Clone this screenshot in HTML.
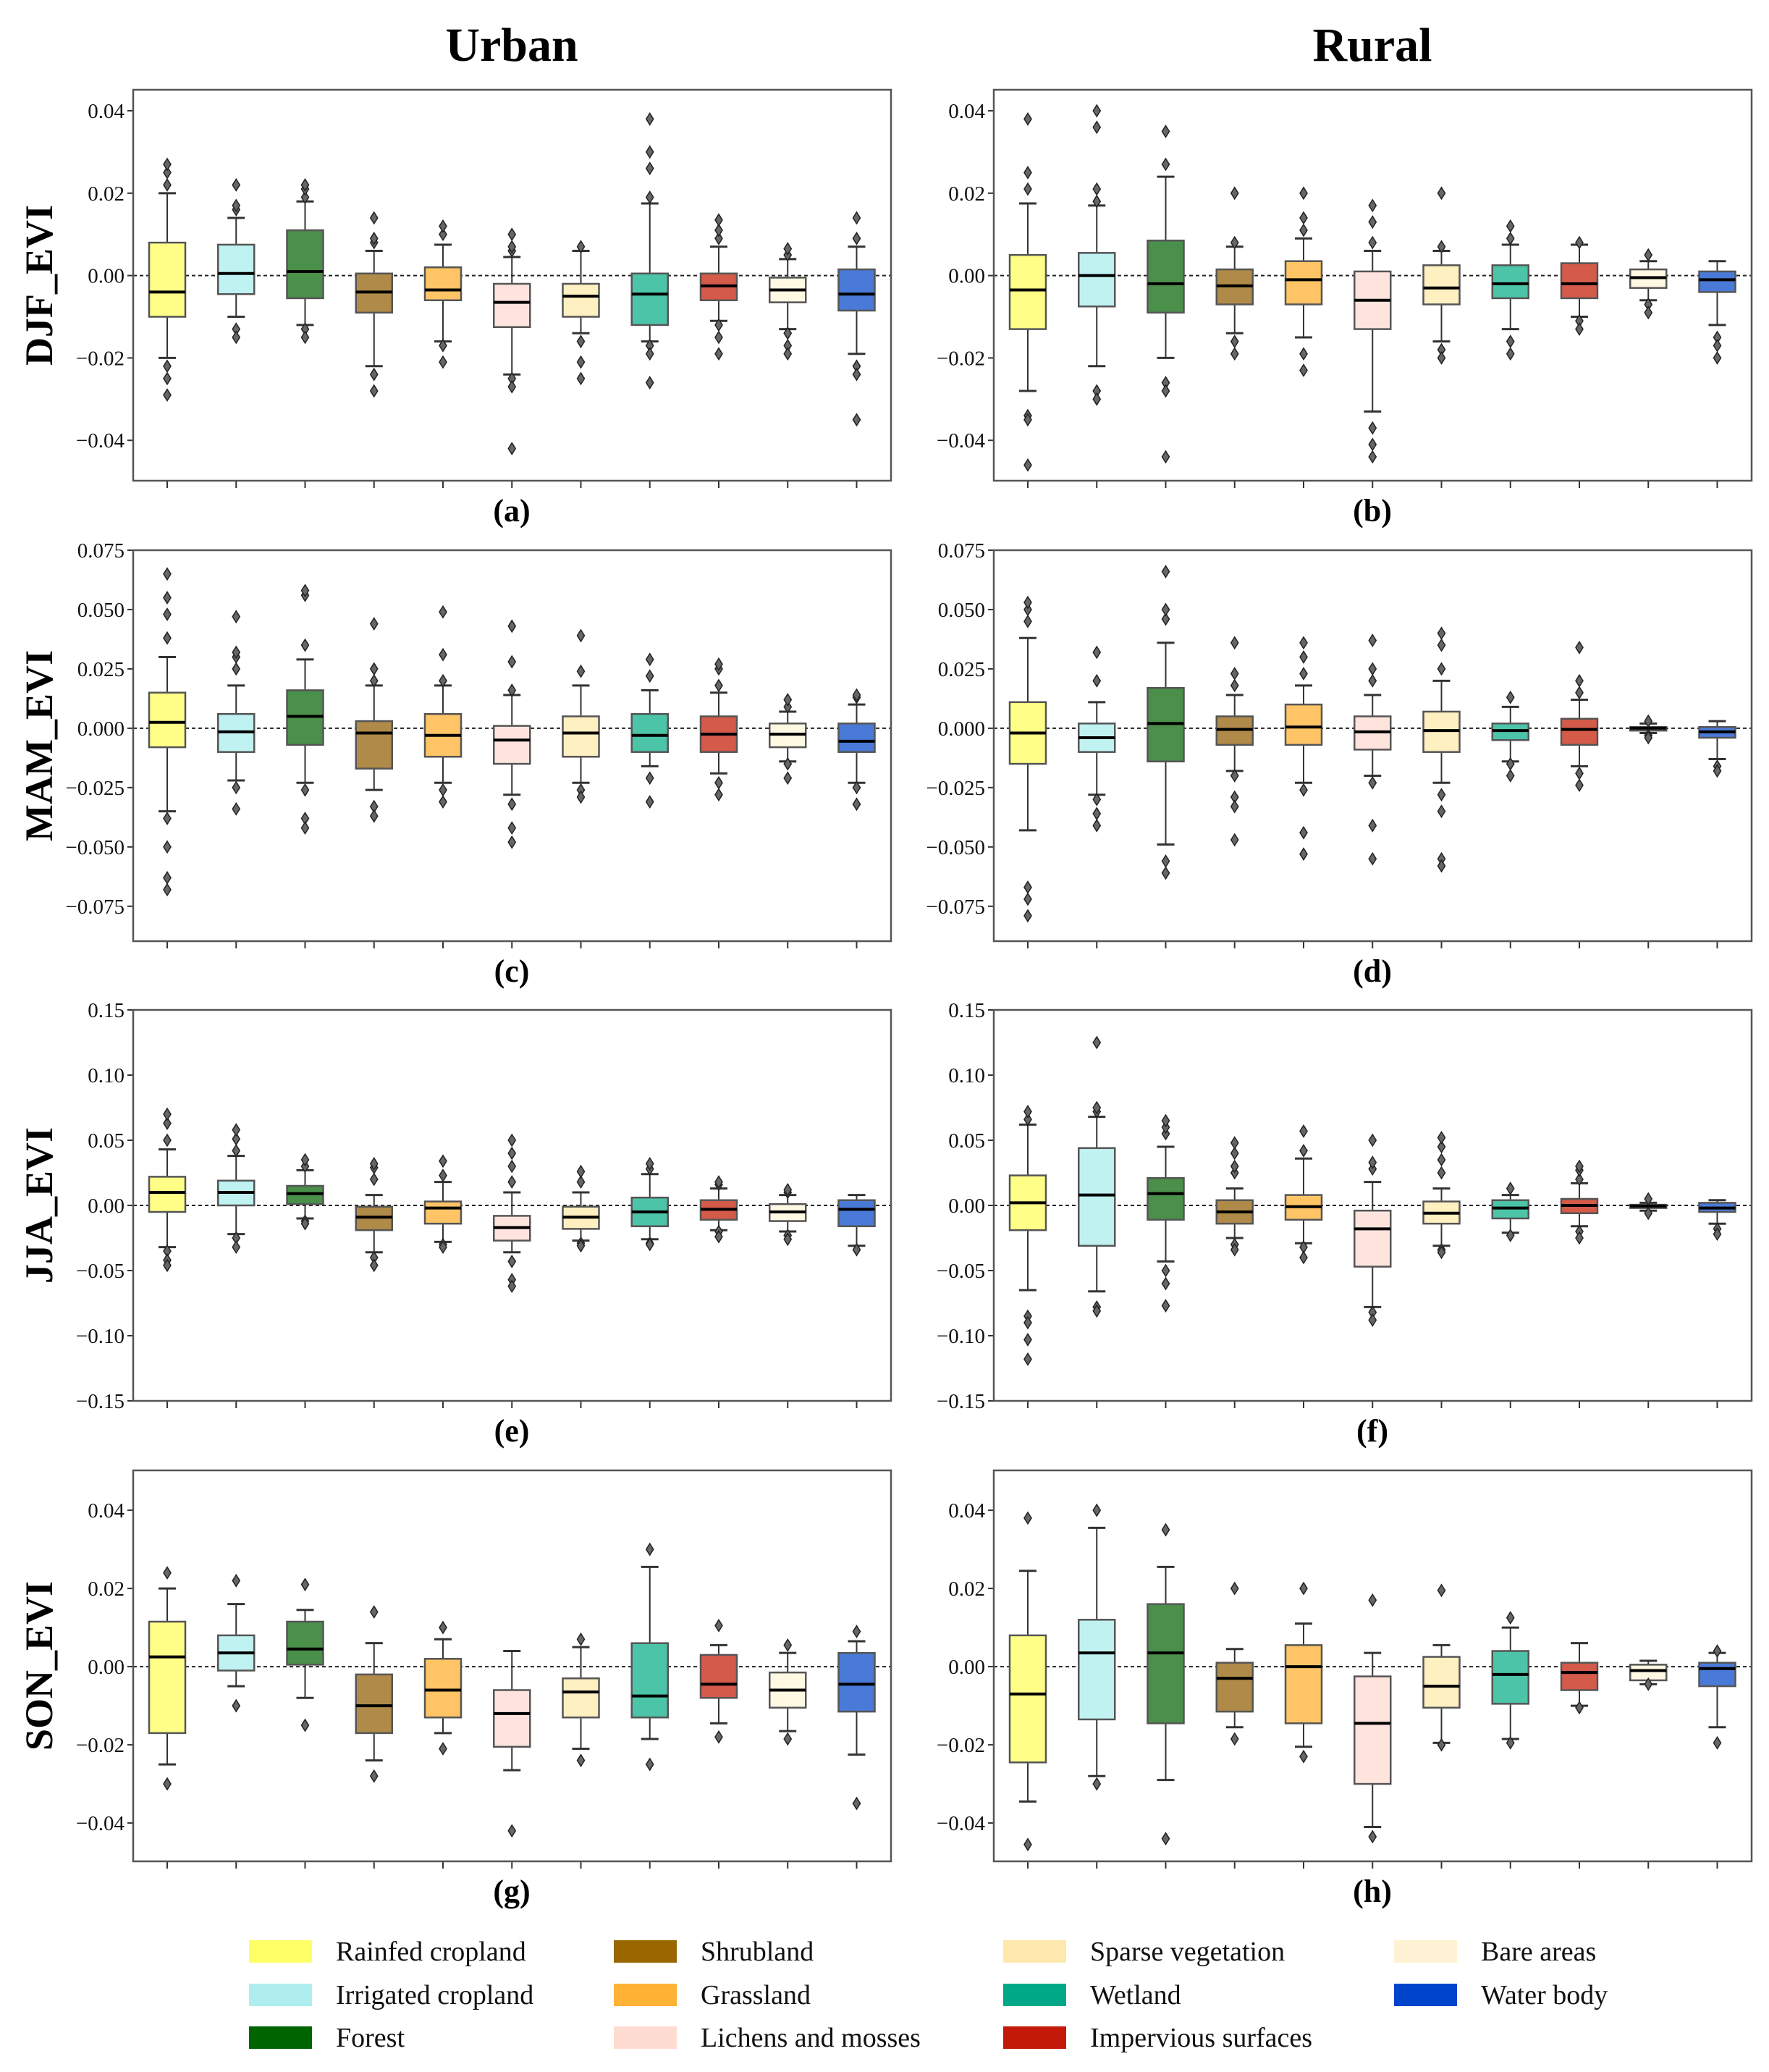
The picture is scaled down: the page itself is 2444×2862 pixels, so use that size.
<!DOCTYPE html>
<html><head><meta charset="utf-8"><style>
html,body{margin:0;padding:0;background:#fff;}
svg{display:block;}
svg text{font-family:"Liberation Serif","DejaVu Serif",serif;}
</style></head><body>
<svg id="s" width="2444" height="2862" viewBox="0 0 2444 2862" xmlns="http://www.w3.org/2000/svg"></svg>
<script>
const S=document.getElementById('s');
let h='';
const fills=['#ffff88','#c0f2f2','#4a8f4a','#b08a48','#ffc466','#ffe4de','#fff0c2','#4cc4a8','#d45a4a','#fff8e2','#4a7ad8'];
const A=[[-1.0,-0.4,0.8,-2.0,2.0,[2.2,2.5,2.7,-2.2,-2.5,-2.9]],[-0.45,0.05,0.75,-1.0,1.4,[1.6,1.7,2.2,-1.3,-1.5]],[-0.55,0.1,1.1,-1.2,1.8,[1.9,2.1,2.2,-1.3,-1.5]],[-0.9,-0.4,0.05,-2.2,0.6,[0.8,0.9,1.4,-2.4,-2.8]],[-0.6,-0.35,0.2,-1.6,0.75,[1.0,1.2,-1.7,-2.1]],[-1.25,-0.65,-0.2,-2.4,0.45,[0.6,0.7,1.0,-2.5,-2.7,-4.2]],[-1.0,-0.5,-0.2,-1.4,0.6,[0.7,-1.6,-2.1,-2.5]],[-1.2,-0.45,0.05,-1.6,1.75,[1.9,2.6,3.0,3.8,-1.7,-1.9,-2.6]],[-0.6,-0.25,0.05,-1.1,0.7,[0.9,1.1,1.35,-1.2,-1.5,-1.9]],[-0.65,-0.35,-0.05,-1.3,0.4,[0.5,0.65,-1.4,-1.7,-1.9]],[-0.85,-0.45,0.15,-1.9,0.7,[0.9,1.4,-2.2,-2.4,-3.5]]];
const B=[[-1.3,-0.35,0.5,-2.8,1.75,[2.1,2.5,3.8,-3.4,-3.5,-4.6]],[-0.75,0,0.55,-2.2,1.7,[1.8,2.1,3.6,4.0,-2.8,-3.0]],[-0.9,-0.2,0.85,-2.0,2.4,[2.7,3.5,-2.6,-2.8,-4.4]],[-0.7,-0.25,0.15,-1.4,0.7,[0.8,2.0,-1.6,-1.9]],[-0.7,-0.1,0.35,-1.5,0.9,[1.1,1.4,2.0,-1.9,-2.3]],[-1.3,-0.6,0.1,-3.3,0.6,[0.8,1.3,1.7,-3.7,-4.1,-4.4]],[-0.7,-0.3,0.25,-1.6,0.6,[0.7,2.0,-1.8,-2.0]],[-0.55,-0.2,0.25,-1.3,0.75,[0.9,1.2,-1.6,-1.9]],[-0.55,-0.2,0.3,-1.0,0.75,[0.8,-1.1,-1.3]],[-0.3,-0.05,0.15,-0.6,0.35,[0.5,-0.7,-0.9]],[-0.4,-0.1,0.1,-1.2,0.35,[-1.5,-1.7,-2.0]]];
const C=[[-0.8,0.25,1.5,-3.5,3.0,[3.8,4.8,5.5,6.5,-3.8,-5.0,-6.3,-6.8]],[-1.0,-0.15,0.6,-2.2,1.8,[2.5,3.0,3.2,4.7,-2.5,-3.4]],[-0.7,0.5,1.6,-2.3,2.9,[3.5,5.6,5.8,-2.6,-3.8,-4.2]],[-1.7,-0.2,0.3,-2.6,1.8,[2.0,2.5,4.4,-3.3,-3.7]],[-1.2,-0.3,0.6,-2.3,1.8,[2.0,3.1,4.9,-2.6,-3.1]],[-1.5,-0.5,0.1,-2.8,1.4,[1.6,2.8,4.3,-3.2,-4.2,-4.8]],[-1.2,-0.2,0.5,-2.3,1.8,[2.4,3.9,-2.6,-2.9]],[-1.0,-0.3,0.6,-1.6,1.6,[2.2,2.9,-2.1,-3.1]],[-1.0,-0.25,0.5,-1.9,1.5,[1.8,2.5,2.7,-2.3,-2.8]],[-0.8,-0.25,0.2,-1.4,0.7,[0.9,1.2,-1.5,-2.1]],[-1.0,-0.55,0.2,-2.3,1.0,[1.3,1.4,-2.5,-3.2]]];
const D=[[-1.5,-0.2,1.1,-4.3,3.8,[4.5,5.0,5.3,-6.7,-7.2,-7.9]],[-1.0,-0.4,0.2,-2.8,1.1,[2.0,3.2,-3.0,-3.6,-4.1]],[-1.4,0.2,1.7,-4.9,3.6,[4.6,5.0,6.6,-5.6,-6.1]],[-0.7,-0.05,0.5,-1.8,1.4,[1.8,2.3,3.6,-2.0,-2.9,-3.3,-4.7]],[-0.7,0.05,1.0,-2.3,1.8,[2.3,3.0,3.6,-2.6,-4.4,-5.3]],[-0.9,-0.15,0.5,-2.0,1.4,[2.0,2.5,3.7,-2.3,-4.1,-5.5]],[-1.0,-0.1,0.7,-2.3,2.0,[2.5,3.5,4.0,-2.8,-3.5,-5.5,-5.8]],[-0.5,-0.1,0.2,-1.4,0.9,[1.3,-1.5,-2.0]],[-0.7,-0.05,0.4,-1.6,1.2,[1.5,2.0,3.4,-1.9,-2.4]],[-0.1,0,0.05,-0.2,0.2,[0.3,-0.3,-0.4]],[-0.4,-0.15,0.05,-1.3,0.3,[-1.6,-1.8]]];
const E=[[-0.5,1.0,2.2,-3.2,4.3,[5.0,6.3,7.0,-3.5,-4.2,-4.6]],[0,1.0,1.9,-2.2,3.8,[4.2,5.1,5.8,-2.5,-3.2]],[0.1,0.9,1.5,-1.0,2.7,[3.0,3.5,-1.2,-1.4]],[-1.9,-0.9,-0.1,-3.6,0.8,[2.0,2.9,3.2,-4.0,-4.6]],[-1.4,-0.2,0.3,-2.8,1.8,[2.3,3.4,-3.0,-3.2]],[-2.7,-1.7,-0.8,-3.6,1.0,[1.8,3.0,4.0,5.0,-4.3,-5.7,-6.2]],[-1.8,-0.9,-0.1,-2.7,1.0,[1.8,2.6,-2.9,-3.1]],[-1.6,-0.5,0.6,-2.6,2.4,[2.8,3.2,-2.9,-3.0]],[-1.1,-0.3,0.4,-1.9,1.3,[1.6,1.8,-2.0,-2.4]],[-1.2,-0.5,0.1,-2.0,0.8,[1.0,1.2,-2.3,-2.6]],[-1.6,-0.3,0.4,-3.1,0.8,[-3.4]]];
const F=[[-1.9,0.2,2.3,-6.5,6.2,[6.6,7.2,-8.5,-9.0,-10.3,-11.8]],[-3.1,0.8,4.4,-6.6,6.8,[7.2,7.5,12.5,-7.8,-8.1]],[-1.1,0.9,2.1,-4.3,4.5,[5.5,6.0,6.5,-5.0,-6.0,-7.7]],[-1.4,-0.5,0.4,-2.5,1.3,[2.5,3.0,4.0,4.8,-3.0,-3.4]],[-1.1,-0.1,0.8,-2.9,3.6,[4.2,5.7,-3.2,-4.0]],[-4.7,-1.8,-0.4,-7.8,1.8,[2.8,3.3,5.0,-8.2,-8.8]],[-1.4,-0.6,0.3,-3.1,1.3,[2.5,3.5,4.5,5.2,-3.4,-3.6]],[-1.0,-0.2,0.4,-2.1,0.8,[1.3,-2.3]],[-0.6,0,0.5,-1.6,1.7,[2.0,2.7,3.0,-2.0,-2.5]],[-0.2,-0.05,0.05,-0.4,0.2,[0.5,-0.6]],[-0.5,-0.2,0.2,-1.4,0.4,[-1.8,-2.2]]];
const G=[[-1.7,0.25,1.15,-2.5,2.0,[2.4,-3.0]],[-0.1,0.35,0.8,-0.5,1.6,[2.2,-1.0]],[0.05,0.45,1.15,-0.8,1.45,[2.1,-1.5]],[-1.7,-1.0,-0.2,-2.4,0.6,[1.4,-2.8]],[-1.3,-0.6,0.2,-1.7,0.7,[1.0,-2.1]],[-2.05,-1.2,-0.6,-2.65,0.4,[-4.2]],[-1.3,-0.65,-0.3,-2.1,0.5,[0.7,-2.4]],[-1.3,-0.75,0.6,-1.85,2.55,[3.0,-2.5]],[-0.8,-0.45,0.3,-1.45,0.55,[1.05,-1.8]],[-1.05,-0.6,-0.15,-1.65,0.35,[0.55,-1.85]],[-1.15,-0.45,0.35,-2.25,0.65,[0.9,-3.5]]];
const H=[[-2.45,-0.7,0.8,-3.45,2.45,[3.8,-4.55]],[-1.35,0.35,1.2,-2.8,3.55,[4.0,-3.0]],[-1.45,0.35,1.6,-2.9,2.55,[3.5,-4.4]],[-1.15,-0.3,0.1,-1.55,0.45,[2.0,-1.85]],[-1.45,0,0.55,-2.05,1.1,[2.0,-2.3]],[-3.0,-1.45,-0.25,-4.1,0.35,[1.7,-4.35]],[-1.05,-0.5,0.25,-1.95,0.55,[1.95,-2.0]],[-0.95,-0.2,0.4,-1.85,1.0,[1.25,-1.95]],[-0.6,-0.15,0.1,-1.0,0.6,[-1.05]],[-0.35,-0.1,0.05,-0.45,0.15,[-0.45]],[-0.5,-0.05,0.1,-1.55,0.35,[0.4,-1.95]]];
const rows=[
 {y:124,min:-0.0498,max:0.0451,ticks:[0.04,0.02,0,-0.02,-0.04],d:2,L:A,R:B,name:'DJF_EVI',la:'(a)',lb:'(b)'},
 {y:760,min:-0.0897,max:0.075,ticks:[0.075,0.05,0.025,0,-0.025,-0.05,-0.075],d:3,L:C,R:D,name:'MAM_EVI',la:'(c)',lb:'(d)'},
 {y:1395,min:-0.15,max:0.15,ticks:[0.15,0.1,0.05,0,-0.05,-0.1,-0.15],d:2,L:E,R:F,name:'JJA_EVI',la:'(e)',lb:'(f)'},
 {y:2031,min:-0.0498,max:0.0502,ticks:[0.04,0.02,0,-0.02,-0.04],d:2,L:G,R:H,name:'SON_EVI',la:'(g)',lb:'(h)'}];
const PW=1047,PH=540;
function fmt(v,d){let s=Math.abs(v).toFixed(d);return (v<0?'\u2212':'')+s;}
function panel(x0,r,data){
 const y0=r.y;const Y=v=>y0+(r.max-v)/(r.max-r.min)*PH;
 let o='';
 o+=`<line x1="${x0}" x2="${x0+PW}" y1="${Y(0)}" y2="${Y(0)}" stroke="#222" stroke-width="2" stroke-dasharray="5,4"/>`;
 data.forEach((b,i)=>{
  const cx=x0+47+i*95.25;const w=50;
  const [q1,m,q3,wl,wh,out]=b;const f=0.01;
  o+=`<line x1="${cx}" x2="${cx}" y1="${Y(wh*f)}" y2="${Y(q3*f)}" stroke="#333" stroke-width="2"/>`;
  o+=`<line x1="${cx}" x2="${cx}" y1="${Y(q1*f)}" y2="${Y(wl*f)}" stroke="#333" stroke-width="2"/>`;
  o+=`<line x1="${cx-12}" x2="${cx+12}" y1="${Y(wh*f)}" y2="${Y(wh*f)}" stroke="#333" stroke-width="3"/>`;
  o+=`<line x1="${cx-12}" x2="${cx+12}" y1="${Y(wl*f)}" y2="${Y(wl*f)}" stroke="#333" stroke-width="3"/>`;
  o+=`<rect x="${cx-w/2}" y="${Y(q3*f)}" width="${w}" height="${Math.max(2,Y(q1*f)-Y(q3*f))}" fill="${fills[i]}" stroke="#555" stroke-width="2.5"/>`;
  o+=`<line x1="${cx-w/2}" x2="${cx+w/2}" y1="${Y(m*f)}" y2="${Y(m*f)}" stroke="#000" stroke-width="4"/>`;
  out.forEach(v=>{const yy=Y(v*f);o+=`<path d="M${cx} ${yy-8}L${cx+5} ${yy}L${cx} ${yy+8}L${cx-5} ${yy}Z" fill="#666" stroke="#222" stroke-width="1.5"/>`;});
  o+=`<line x1="${cx}" x2="${cx}" y1="${y0+PH}" y2="${y0+PH+10}" stroke="#333" stroke-width="2"/>`;
 });
 r.ticks.forEach(t=>{const yy=Y(t);
  o+=`<line x1="${x0-8}" x2="${x0}" y1="${yy}" y2="${yy}" stroke="#333" stroke-width="2"/>`;
  o+=`<text x="${x0-12}" y="${yy+10}" font-size="29" text-anchor="end" fill="#111">${fmt(t,r.d)}</text>`;});
 o+=`<rect x="${x0}" y="${y0}" width="${PW}" height="${PH}" fill="none" stroke="#555" stroke-width="2.5"/>`;
 return o;
}
h+=`<text x="707" y="84" font-size="66" font-weight="bold" text-anchor="middle">Urban</text>`;
h+=`<text x="1896" y="84" font-size="66" font-weight="bold" text-anchor="middle">Rural</text>`;
rows.forEach(r=>{
 h+=panel(184,r,r.L);h+=panel(1373,r,r.R);
 h+=`<text x="707" y="${r.y+PH+56}" font-size="44" font-weight="bold" text-anchor="middle">${r.la}</text>`;
 h+=`<text x="1896" y="${r.y+PH+56}" font-size="44" font-weight="bold" text-anchor="middle">${r.lb}</text>`;
 h+=`<text transform="translate(72,${r.y+PH/2}) rotate(-90)" font-size="54" font-weight="bold" text-anchor="middle">${r.name}</text>`;
});
const leg=[['Rainfed cropland','#ffff66'],['Irrigated cropland','#aeeeee'],['Forest','#006400'],['Shrubland','#996600'],['Grassland','#ffb233'],['Lichens and mosses','#ffdcd2'],['Sparse vegetation','#ffe8ad'],['Wetland','#00a887'],['Impervious surfaces','#c41a0a'],['Bare areas','#fff2d4'],['Water body','#0044cc']];
const lx=[344,848,1386,1926],ly=[2696,2756,2815];
leg.forEach((l,i)=>{const c=Math.floor(i/3),r=i%3;
 h+=`<rect x="${lx[c]}" y="${ly[r]-16}" width="87" height="31" fill="${l[1]}"/>`;
 h+=`<text x="${lx[c]+120}" y="${ly[r]+12}" font-size="38" fill="#111">${l[0]}</text>`;});
S.innerHTML=h;
</script>
</body></html>
